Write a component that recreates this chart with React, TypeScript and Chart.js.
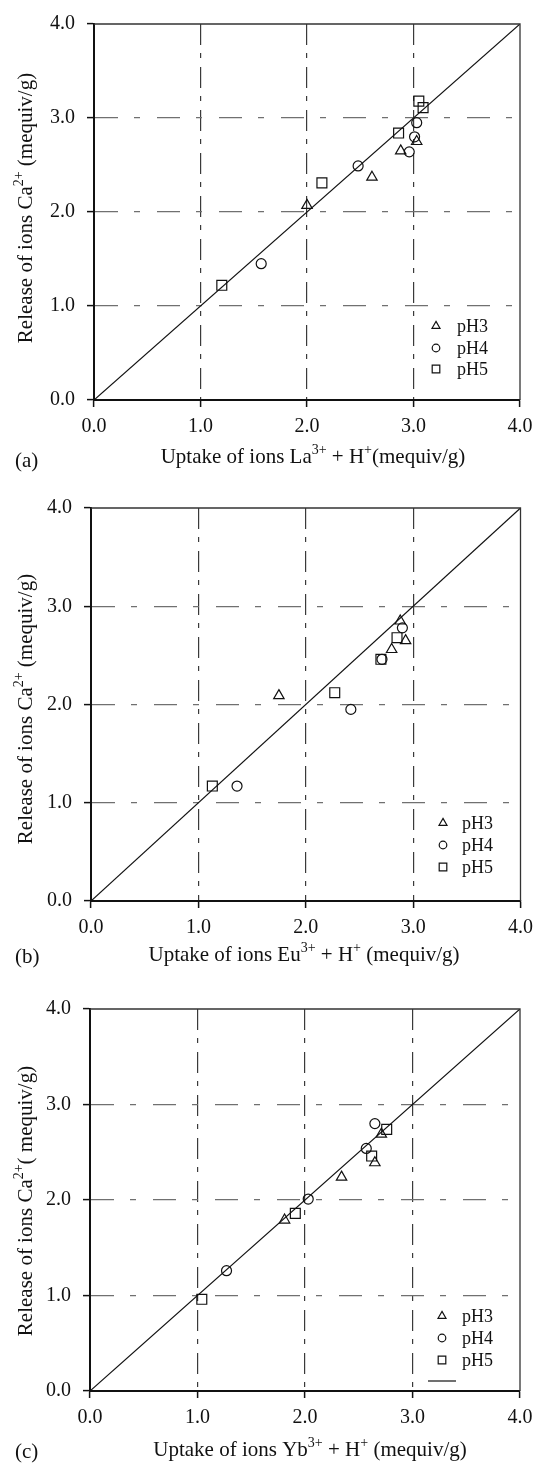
import React, { useEffect, useRef } from 'react';
import { Chart, registerables } from 'chart.js';

Chart.register(...registerables);

// ---------- data ----------
const seriesNames = ['pH3', 'pH4', 'pH5'];
const tickValues = [0, 1, 2, 3, 4];
const tickLabels = ['0.0', '1.0', '2.0', '3.0', '4.0'];
const diagX = [0, 4];
const diagY = [0, 4];

// (a) La
const aPH3X = [2.0, 2.61, 2.88, 3.03];
const aPH3Y = [2.07, 2.37, 2.65, 2.75];
const aPH4X = [1.57, 2.48, 2.96, 3.01, 3.03];
const aPH4Y = [1.45, 2.49, 2.64, 2.8, 2.95];
const aPH5X = [1.2, 2.14, 2.86, 3.05, 3.09];
const aPH5Y = [1.22, 2.31, 2.84, 3.18, 3.11];

// (b) Eu
const bPH3X = [1.75, 2.8, 2.88, 2.93];
const bPH3Y = [2.09, 2.56, 2.85, 2.65];
const bPH4X = [1.36, 2.42, 2.71, 2.9];
const bPH4Y = [1.17, 1.95, 2.46, 2.78];
const bPH5X = [1.13, 2.27, 2.7, 2.85];
const bPH5Y = [1.17, 2.12, 2.46, 2.68];

// (c) Yb
const cPH3X = [1.81, 2.34, 2.65, 2.71];
const cPH3Y = [1.79, 2.24, 2.39, 2.69];
const cPH4X = [1.27, 2.03, 2.57, 2.65];
const cPH4Y = [1.26, 2.01, 2.54, 2.8];
const cPH5X = [1.04, 1.91, 2.62, 2.76];
const cPH5Y = [0.96, 1.86, 2.46, 2.74];

// titles: [text, isSuperscript]
type Seg = [string, number];
const aXTitle: Seg[] = [['Uptake of ions La', 0], ['3+', 1], [' + H', 0], ['+', 1], ['(mequiv/g)', 0]];
const bXTitle: Seg[] = [['Uptake of ions Eu', 0], ['3+', 1], [' + H', 0], ['+', 1], [' (mequiv/g)', 0]];
const cXTitle: Seg[] = [['Uptake of ions Yb', 0], ['3+', 1], [' + H', 0], ['+', 1], [' (mequiv/g)', 0]];
const abYTitle: Seg[] = [['Release of ions Ca', 0], ['2+', 1], [' (mequiv/g)', 0]];
const cYTitle: Seg[] = [['Release of ions Ca', 0], ['2+', 1], ['( mequiv/g)', 0]];
const panelLabels = ['(a)', '(b)', '(c)'];

// ---------- layout ----------
const FONT = "'Liberation Serif', 'Times New Roman', serif";
const W = 541;

interface PanelDef {
  top: number;
  height: number;
  plotLeft: number;
  plotRight: number;
  plotTop: number;
  plotBottom: number;
  xs: number[][];
  ys: number[][];
  xTitle: Seg[];
  yTitle: Seg[];
  label: string;
  xTitlePos: [number, number];
  yTitlePos: [number, number];
  labelPos: [number, number];
  legendMarkerX: number;
  legendTextX: number;
  legendRows: number[];
  legendLineRow: number | null;
}

const panels: PanelDef[] = [
  {
    top: 0, height: 480,
    plotLeft: 94, plotRight: 520, plotTop: 16, plotBottom: 400,
    xs: [aPH3X, aPH4X, aPH5X], ys: [aPH3Y, aPH4Y, aPH5Y],
    xTitle: aXTitle, yTitle: abYTitle, label: panelLabels[0],
    xTitlePos: [313, 457], yTitlePos: [26, 208], labelPos: [15, 461],
    legendMarkerX: 436, legendTextX: 457, legendRows: [326, 348, 369], legendLineRow: null,
  },
  {
    top: 480, height: 495,
    plotLeft: 91, plotRight: 522, plotTop: 28, plotBottom: 421,
    xs: [bPH3X, bPH4X, bPH5X], ys: [bPH3Y, bPH4Y, bPH5Y],
    xTitle: bXTitle, yTitle: abYTitle, label: panelLabels[1],
    xTitlePos: [304, 475], yTitlePos: [26, 229], labelPos: [15, 477],
    legendMarkerX: 443, legendTextX: 462, legendRows: [343, 365, 387], legendLineRow: null,
  },
  {
    top: 960, height: 504,
    plotLeft: 90, plotRight: 520, plotTop: 49, plotBottom: 431,
    xs: [cPH3X, cPH4X, cPH5X], ys: [cPH3Y, cPH4Y, cPH5Y],
    xTitle: cXTitle, yTitle: cYTitle, label: panelLabels[2],
    xTitlePos: [310, 490], yTitlePos: [26, 241], labelPos: [15, 492],
    legendMarkerX: 442, legendTextX: 462, legendRows: [356, 378, 400], legendLineRow: 421,
  },
];

const styles = ['triangle', 'circle', 'rect'];
const radii = [6, 5, 7];

function drawRich(ctx: CanvasRenderingContext2D, segs: Seg[], cx: number, cy: number, size: number, rot: number) {
  const supSize = Math.round(size * 0.66);
  let total = 0;
  const widths: number[] = [];
  segs.forEach(([t, sup]) => {
    ctx.font = `${sup ? supSize : size}px ${FONT}`;
    const w = ctx.measureText(t).width;
    widths.push(w);
    total += w;
  });
  ctx.save();
  ctx.translate(cx, cy);
  ctx.rotate(rot);
  ctx.fillStyle = '#111';
  ctx.textBaseline = 'alphabetic';
  ctx.textAlign = 'left';
  let x = -total / 2;
  const base = size * 0.27;
  segs.forEach(([t, sup], i) => {
    ctx.font = `${sup ? supSize : size}px ${FONT}`;
    ctx.fillText(t, x, sup ? base - size * 0.42 : base);
    x += widths[i];
  });
  ctx.restore();
}

function drawMarker(ctx: CanvasRenderingContext2D, style: string, x: number, y: number) {
  ctx.beginPath();
  if (style === 'triangle') {
    const r = 4.6;
    ctx.moveTo(x, y - r);
    ctx.lineTo(x + 0.866 * r, y + 0.5 * r);
    ctx.lineTo(x - 0.866 * r, y + 0.5 * r);
    ctx.closePath();
  } else if (style === 'circle') {
    ctx.arc(x, y, 3.8, 0, Math.PI * 2);
  } else {
    ctx.rect(x - 3.8, y - 3.8, 7.6, 7.6);
  }
  ctx.stroke();
}

const decorPlugin = {
  id: 'decor',
  afterDraw(chart: any, _args: any, opts: any) {
    const p: PanelDef = opts.panel;
    if (!p) return;
    const ctx: CanvasRenderingContext2D = chart.ctx;
    const area = chart.chartArea;
    ctx.save();
    // top & right frame
    ctx.strokeStyle = '#333';
    ctx.lineWidth = 1.3;
    ctx.beginPath();
    ctx.moveTo(area.left, area.top);
    ctx.lineTo(area.right, area.top);
    ctx.lineTo(area.right, area.bottom);
    ctx.stroke();

    // titles
    drawRich(ctx, p.xTitle, p.xTitlePos[0], p.xTitlePos[1], 21, 0);
    drawRich(ctx, p.yTitle, p.yTitlePos[0], p.yTitlePos[1], 21, -Math.PI / 2);
    ctx.font = `21px ${FONT}`;
    ctx.fillStyle = '#111';
    ctx.textAlign = 'left';
    ctx.textBaseline = 'middle';
    ctx.fillText(p.label, p.labelPos[0], p.labelPos[1]);

    // legend
    ctx.strokeStyle = '#111';
    ctx.lineWidth = 1.2;
    ctx.font = `18px ${FONT}`;
    seriesNames.forEach((name, i) => {
      drawMarker(ctx, styles[i], p.legendMarkerX, p.legendRows[i]);
      ctx.fillText(name, p.legendTextX, p.legendRows[i] + 1);
    });
    if (p.legendLineRow !== null) {
      ctx.beginPath();
      ctx.moveTo(p.legendMarkerX - 14, p.legendLineRow);
      ctx.lineTo(p.legendMarkerX + 14, p.legendLineRow);
      ctx.stroke();
    }
    ctx.restore();
  },
};

function tickCb(v: any) {
  const i = tickValues.indexOf(Number(v));
  return i >= 0 ? tickLabels[i] : '';
}

function Panel({ p }: { p: PanelDef }) {
  const ref = useRef<HTMLCanvasElement | null>(null);
  useEffect(() => {
    if (!ref.current) return;
    const datasets: any[] = [
      {
        type: 'line',
        label: 'fit',
        data: diagX.map((x, i) => ({ x, y: diagY[i] })),
        borderColor: '#111',
        borderWidth: 1.2,
        pointRadius: 0,
        fill: false,
        tension: 0,
      },
    ];
    seriesNames.forEach((name, i) => {
      datasets.push({
        type: 'scatter',
        label: name,
        data: p.xs[i].map((x, j) => ({ x, y: p.ys[i][j] })),
        pointStyle: styles[i],
        pointRadius: radii[i],
        pointHoverRadius: radii[i],
        borderColor: '#111',
        backgroundColor: 'rgba(0,0,0,0)',
        borderWidth: 1.2,
      });
    });
    const xAxisH = p.height - p.plotBottom;
    const yAxisW = p.plotLeft;
    const chart = new Chart(ref.current, {
      type: 'scatter',
      data: { datasets },
      plugins: [decorPlugin],
      options: {
        animation: false,
        responsive: false,
        events: [],
        layout: {
          autoPadding: false,
          padding: { left: 0, right: W - p.plotRight, top: p.plotTop, bottom: 0 },
        },
        plugins: {
          legend: { display: false },
          tooltip: { enabled: false },
          decor: { panel: p },
        } as any,
        scales: {
          x: {
            type: 'linear',
            min: 0,
            max: 4,
            afterBuildTicks: (s: any) => {
              s.ticks = tickValues.map((v) => ({ value: v }));
            },
            afterFit: (s: any) => {
              s.height = xAxisH;
            },
            ticks: {
              color: '#111',
              font: { family: FONT, size: 20 },
              padding: 8,
              maxRotation: 0,
              autoSkip: false,
              callback: tickCb,
            },
            grid: {
              color: (c: any) =>
                c.tick && c.tick.value > 0 && c.tick.value < 4 ? '#3a3a3a' : 'rgba(0,0,0,0)',
              lineWidth: 1.2,
              tickLength: 7,
              tickColor: '#111',
              tickWidth: 1.5,
            },
            border: { display: true, color: '#111', width: 2, dash: [21, 8, 5, 9] },
          },
          y: {
            type: 'linear',
            min: 0,
            max: 4,
            afterBuildTicks: (s: any) => {
              s.ticks = tickValues.map((v) => ({ value: v }));
            },
            afterFit: (s: any) => {
              s.width = yAxisW;
            },
            ticks: {
              color: '#111',
              font: { family: FONT, size: 20 },
              padding: 12,
              autoSkip: false,
              callback: tickCb,
            },
            grid: {
              color: (c: any) =>
                c.tick && c.tick.value > 0 && c.tick.value < 4 ? '#707070' : 'rgba(0,0,0,0)',
              lineWidth: 1.2,
              tickLength: 7,
              tickColor: '#111',
              tickWidth: 1.5,
            },
            border: { display: true, color: '#111', width: 2, dash: [23, 16, 6, 17] },
          },
        },
      } as any,
    });
    return () => chart.destroy();
  }, [p]);
  return (
    <canvas
      ref={ref}
      width={W}
      height={p.height}
      style={{ position: 'absolute', left: 0, top: p.top, width: W, height: p.height }}
    />
  );
}

export default function App() {
  return (
    <div style={{ position: 'absolute', left: 0, top: 0, width: W, height: 1464, background: '#fff', overflow: 'hidden' }}>
      {panels.map((p, i) => (
        <Panel key={i} p={p} />
      ))}
    </div>
  );
}
